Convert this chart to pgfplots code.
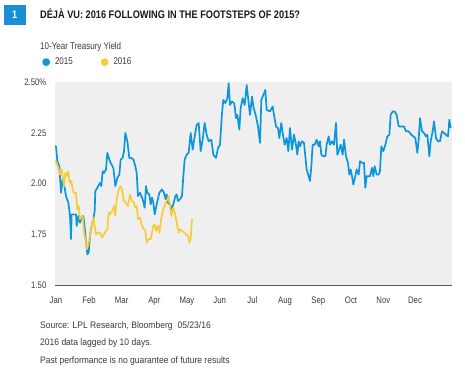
\documentclass[border=0pt]{standalone}
\usepackage{pgfplots}
\usepackage{pgfplotstable}
\pgfplotsset{compat=1.18}
\usepackage{fontspec}
\setmainfont[FakeStretch=0.82]{Liberation Sans}
\newfontfamily\titlefont[FakeStretch=0.84]{Liberation Sans}
\newfontfamily\footfont[FakeStretch=0.9]{Liberation Sans}
\definecolor{blue15}{HTML}{0C96DC}
\definecolor{yel16}{HTML}{F7CB3A}
\definecolor{bg}{HTML}{EFEFEF}
\definecolor{txt}{HTML}{3A3A3A}
\definecolor{boxblue}{HTML}{1A8FD3}

% x: position along the year (Jan start = 168, Dec start = 1245)
\pgfplotstableread{
x y
165 2.183
168 2.183
172 2.110
178 2.085
183 1.954
188 2.020
193 1.987
198 1.938
205 1.905
210 1.840
213 1.726
215 1.848
222 1.848
228 1.848
230 1.791
235 1.840
240 1.807
245 1.832
250 1.840
255 1.767
258 1.709
262 1.652
266 1.660
270 1.742
275 1.791
280 1.824
284 1.865
286 1.963
292 1.979
300 2.003
304 1.987
308 2.061
312 2.052
318 2.069
322 2.151
328 2.118
332 2.102
340 2.077
346 1.987
352 2.028
358 2.044
362 2.118
368 2.126
372 2.159
376 2.249
382 2.208
388 2.126
394 2.126
400 2.118
406 2.085
410 2.052
414 1.938
420 1.954
428 1.922
434 1.881
438 1.987
442 1.954
448 1.946
452 1.897
456 1.930
460 1.905
464 1.848
470 1.897
478 1.954
486 1.971
492 1.954
497 1.922
500 1.946
504 1.905
510 1.897
514 1.873
520 1.897
526 1.938
530 1.946
534 1.914
540 1.922
546 1.938
550 2.036
554 2.118
560 2.142
566 2.151
572 2.249
578 2.167
584 2.232
590 2.289
596 2.298
602 2.159
608 2.216
614 2.298
620 2.240
626 2.208
634 2.216
640 2.142
648 2.126
654 2.175
660 2.191
666 2.347
670 2.412
676 2.396
682 2.420
686 2.494
690 2.387
696 2.404
702 2.396
704 2.379
708 2.322
712 2.338
718 2.265
722 2.371
728 2.420
734 2.387
740 2.485
746 2.396
750 2.338
756 2.428
760 2.379
768 2.330
774 2.281
780 2.200
784 2.412
790 2.436
796 2.461
800 2.363
810 2.355
818 2.379
822 2.338
828 2.281
834 2.273
838 2.224
844 2.298
848 2.249
854 2.191
860 2.224
865 2.159
870 2.273
876 2.167
882 2.240
888 2.191
892 2.142
896 2.208
900 2.183
906 2.208
912 2.200
916 2.134
920 2.069
926 2.036
930 2.012
934 2.085
938 2.191
944 2.191
950 2.216
956 2.183
960 2.208
964 2.142
970 2.134
976 2.134
980 2.191
986 2.232
990 2.191
996 2.208
1002 2.191
1008 2.298
1012 2.142
1016 2.159
1022 2.191
1028 2.142
1032 2.216
1038 2.134
1044 2.102
1048 2.044
1052 2.069
1056 2.036
1060 1.995
1066 2.036
1070 2.069
1076 2.044
1080 2.110
1086 2.102
1092 2.102
1096 1.979
1100 2.036
1104 2.036
1110 2.036
1116 2.077
1120 2.036
1124 2.085
1130 2.044
1136 2.044
1140 2.061
1144 2.183
1150 2.159
1156 2.191
1162 2.232
1168 2.240
1172 2.338
1178 2.355
1184 2.355
1190 2.338
1196 2.281
1204 2.281
1212 2.281
1218 2.257
1226 2.257
1234 2.240
1240 2.232
1246 2.224
1252 2.151
1256 2.216
1260 2.322
1266 2.257
1272 2.249
1278 2.232
1282 2.240
1288 2.134
1292 2.208
1298 2.257
1302 2.306
1308 2.224
1314 2.208
1320 2.208
1326 2.257
1332 2.249
1338 2.240
1344 2.232
1348 2.314
1352 2.273
}\yrfifteen

\pgfplotstableread{
x y
163 2.113
170 2.102
175 2.077
180 2.044
185 2.069
188 2.036
192 1.987
196 2.052
200 2.036
204 2.061
210 2.003
214 2.012
218 1.971
222 1.954
228 1.954
232 1.873
236 1.889
240 1.824
244 1.832
248 1.840
252 1.758
256 1.726
260 1.677
264 1.693
268 1.726
272 1.758
276 1.799
280 1.832
284 1.791
288 1.750
294 1.758
300 1.758
306 1.734
312 1.750
318 1.767
322 1.775
326 1.856
330 1.848
336 1.865
342 1.889
346 1.840
350 1.922
356 1.971
362 1.987
366 1.971
372 1.914
378 1.905
384 1.889
390 1.946
396 1.914
402 1.905
406 1.881
410 1.889
414 1.824
420 1.832
426 1.791
432 1.775
436 1.767
440 1.709
446 1.726
452 1.726
456 1.758
460 1.791
464 1.799
468 1.767
474 1.791
478 1.758
482 1.807
488 1.865
494 1.889
500 1.914
506 1.938
510 1.889
514 1.840
520 1.881
526 1.848
532 1.791
536 1.758
540 1.775
546 1.767
552 1.758
558 1.750
564 1.742
568 1.709
572 1.726
576 1.824
}\yrsixteen

\begin{document}
\begin{tikzpicture}
\useasboundingbox (0bp,0bp) rectangle (465bp,371bp);
% header
\fill[boxblue] (4bp,346bp) rectangle (25.5bp,366bp);
\node[text=white,font=\titlefont\bfseries\fontsize{11}{12}\selectfont,anchor=base] at (14.8bp,352bp) {1};
\node[anchor=base west,inner sep=0,text=black!90,font=\titlefont\bfseries\fontsize{11}{12}\selectfont] at (40bp,352bp) {DÉJÀ VU: 2016 FOLLOWING IN THE FOOTSTEPS OF 2015?};
\node[anchor=base west,inner sep=0,text=txt,font=\fontsize{9.8}{11}\selectfont] at (40bp,321bp) {10-Year Treasury Yield};
% footer
\node[anchor=base west,inner sep=0,text=txt,font=\footfont\fontsize{9.5}{10}\selectfont] at (40bp,42.7bp) {Source: LPL Research, Bloomberg\hspace{5bp}05/23/16};
\node[anchor=base west,inner sep=0,text=txt,font=\footfont\fontsize{9.5}{10}\selectfont] at (40bp,26bp) {2016 data lagged by 10 days.};
\node[anchor=base west,inner sep=0,text=txt,font=\footfont\fontsize{9.5}{10}\selectfont] at (40bp,7.7bp) {Past performance is no guarantee of future results};

\begin{axis}[
  at={(55bp,86bp)}, anchor=south west,
  scale only axis, width=397bp, height=203bp,
  xmin=165, xmax=1356, ymin=1.5, ymax=2.5,
  axis background/.style={fill=bg},
  axis lines=left,
  axis line style={-},
  y axis line style={draw=none},
  x axis line style={draw=black!65, line width=0.9bp},
  tick style={draw=none},
  xtick={168,267,365,463,561,659,757,855,955,1053,1150,1245},
  xticklabels={Jan,Feb,Mar,Apr,May,Jun,Jul,Aug,Sep,Oct,Nov,Dec},
  ytick={1.5,1.75,2,2.25,2.5},
  yticklabels={1.50,1.75,2.00,2.25,2.50\%},
  ticklabel style={text=txt, font=\fontsize{9.5}{10}\selectfont},
  xticklabel style={anchor=base, yshift=-16.5bp},
  yticklabel style={anchor=east, xshift=-3bp},
  legend style={at={(axis description cs:-0.0324,1.098)}, anchor=west, draw=none, fill=none,
    font=\fontsize{9.8}{11}\selectfont, text=txt, inner sep=0pt,
    /tikz/every odd column/.append style={column sep=3bp},
    /tikz/every even column/.append style={column sep=26bp}},
  legend columns=-1,
  legend image code/.code={\fill (0.25em,0) circle (3bp);},
]
\addplot[blue15, line width=1.7bp, line join=round] table {\yrfifteen};
\addlegendentry{2015}
\addplot[yel16, line width=1.7bp, line join=round] table {\yrsixteen};
\addlegendentry{2016}
\end{axis}
\end{tikzpicture}
\end{document}
